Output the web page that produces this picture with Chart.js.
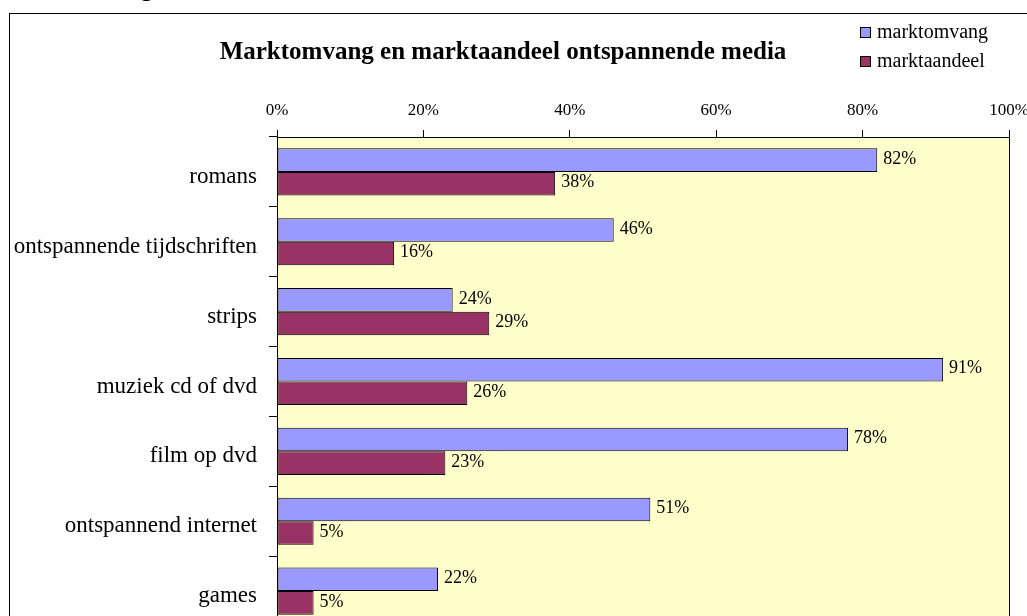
<!DOCTYPE html>
<html>
<head>
<meta charset="utf-8">
<script src="https://cdn.jsdelivr.net/npm/chart.js@4"></script>
<style>
  html, body { margin: 0; padding: 0; background: #fff; overflow: hidden; }
  body { width: 1027px; height: 616px; position: relative; }
  #kop { position: absolute; left: 10px; top: -28px; font: 22px "Open Sans", sans-serif; color: #000; }
  #kader { position: absolute; left: 9px; top: 13px; width: 1060px; height: 660px; border: 1px solid #000; background: #fff; }
  #progressChart { position: absolute; left: 0; top: 0; }
</style>
</head>
<body>
<div id="kop">Marktomvang</div>
<div id="kader"><canvas id="progressChart" width="1050" height="638"></canvas></div>
<script>
const categories = ["romans", "ontspannende tijdschriften", "strips", "muziek cd of dvd", "film op dvd", "ontspannend internet", "games"];
const marktomvang = [82, 46, 24, 91, 78, 51, 22];
const marktaandeel = [38, 16, 29, 26, 23, 5, 5];
const seriesNames = ["marktomvang", "marktaandeel"];
const xTicks = [0, 20, 40, 60, 80, 100];

const serif = "'Liberation Serif', 'Times New Roman', serif";

// yellow plot area with black frame
const plotFrame = {
    id: "plotFrame",
    beforeDatasetsDraw(chart) {
        const { ctx, chartArea: a } = chart;
        ctx.save();
        ctx.fillStyle = "#FFFFCC";
        ctx.fillRect(a.left, a.top, a.right - a.left, a.bottom - a.top);
        ctx.restore();
    },
    afterDatasetsDraw(chart) {
        const { ctx, chartArea: a } = chart;
        ctx.save();
        ctx.strokeStyle = "#000";
        ctx.lineWidth = 1;
        ctx.strokeRect(Math.round(a.left) + 0.5, Math.round(a.top) + 0.5, Math.round(a.right - a.left), Math.round(a.bottom - a.top));
        ctx.restore();
    }
};

// value labels, title and legend
const extras = {
    id: "extras",
    afterDraw(chart) {
        const ctx = chart.ctx;
        ctx.save();
        ctx.fillStyle = "#000";
        ctx.font = "18px " + serif;
        ctx.textBaseline = "middle";
        ctx.textAlign = "left";
        chart.data.datasets.forEach((ds, i) => {
            chart.getDatasetMeta(i).data.forEach((bar, j) => {
                ctx.fillText(ds.data[j] + "%", bar.x + 6, bar.y - 1);
            });
        });

        ctx.font = "bold 25px " + serif;
        ctx.textAlign = "center";
        ctx.fillText("Marktomvang en marktaandeel ontspannende media", 493, 39);

        ctx.font = "20px " + serif;
        ctx.textAlign = "left";
        chart.data.datasets.forEach((ds, i) => {
            const y = 19 + i * 29;
            ctx.fillStyle = ds.backgroundColor;
            ctx.fillRect(850.5, y - 5.5, 10, 10);
            ctx.strokeStyle = "#000";
            ctx.lineWidth = 1;
            ctx.strokeRect(850.5, y - 5.5, 10, 10);
            ctx.fillStyle = "#000";
            ctx.fillText(ds.label, 867, y);
        });
        ctx.restore();
    }
};

const ctx = document.getElementById("progressChart").getContext("2d");
new Chart(ctx, {
    type: "bar",
    data: {
        labels: categories,
        datasets: [{
            label: seriesNames[0],
            data: marktomvang,
            backgroundColor: "#9999FF",
            borderColor: "#000",
            borderWidth: 1,
            borderSkipped: false
        }, {
            label: seriesNames[1],
            data: marktaandeel,
            backgroundColor: "#993366",
            borderColor: "#000",
            borderWidth: 1,
            borderSkipped: false
        }]
    },
    options: {
        indexAxis: "y",
        responsive: false,
        animation: false,
        layout: { padding: { top: 80, right: 51, bottom: 26, left: 0 } },
        plugins: {
            legend: { display: false },
            title: { display: false },
            tooltip: { enabled: false }
        },
        datasets: { bar: { categoryPercentage: 0.675, barPercentage: 1 } },
        scales: {
            x: {
                position: "top",
                min: 0,
                max: 100,
                afterBuildTicks(scale) {
                    scale.ticks = xTicks.map(v => ({ value: v }));
                },
                afterFit(scale) { scale.height = 43; },
                grid: { drawOnChartArea: false, tickLength: 7, color: "#000", tickColor: "#000" },
                border: { display: false },
                ticks: {
                    color: "#000",
                    padding: 9,
                    maxRotation: 0,
                    font: { family: serif, size: 17 },
                    callback: v => v + "%"
                }
            },
            y: {
                afterFit(scale) {
                    scale.width = 267;
                    scale.paddingTop = 0;
                    scale.paddingBottom = 0;
                },
                grid: { drawOnChartArea: false, offset: true, tickLength: 8, color: "#000", tickColor: "#000" },
                border: { display: false },
                ticks: {
                    color: "#000",
                    padding: 12,
                    labelOffset: 5,
                    font: { family: serif, size: 23 }
                }
            }
        }
    },
    plugins: [plotFrame, extras]
});
</script>
</body>
</html>
